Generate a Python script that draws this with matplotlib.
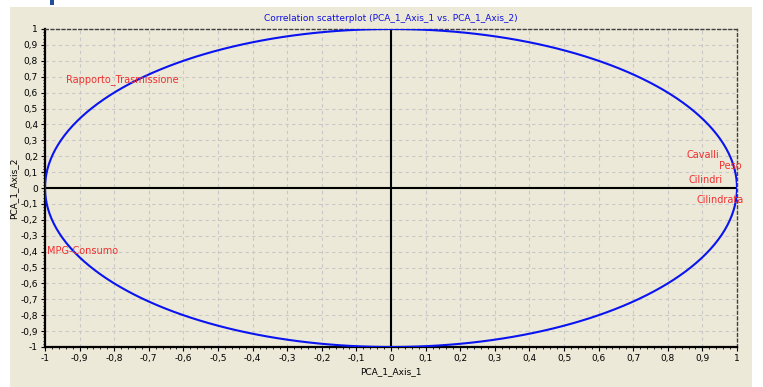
import numpy as np
import matplotlib.pyplot as plt
from matplotlib.patches import Rectangle
from matplotlib.ticker import MultipleLocator, FuncFormatter

# variable labels and their positions on the correlation circle
var_names = ['Rapporto_Trasmissione', 'Cavalli', 'Peso', 'Cilindri', 'Cilindrata', 'MPG-Consumo']
axis1 = [-0.94, 0.853, 0.948, 0.861, 0.884, -0.994]
axis2 = [0.68, 0.207, 0.138, 0.05, -0.075, -0.396]

ticks = np.round(np.arange(-1, 1.01, 0.1), 1)

bg = '#ECE9D8'
fig = plt.figure(figsize=(7.63, 3.87), dpi=100)
fig.patch.set_facecolor('white')
fig.patches.append(Rectangle((10/763, 0), 742/763, 380/387, transform=fig.transFigure,
                             facecolor=bg, edgecolor='none', zorder=-10))
fig.patches.append(Rectangle((50/763, 382/387), 4/763, 5/387, transform=fig.transFigure,
                             facecolor='#1F4E9A', edgecolor='none', zorder=-9))

ax = fig.add_axes([45/763, 1 - 347/387, 692/763, 318/387])
ax.set_facecolor(bg)

t = np.linspace(0, 2*np.pi, 400)
ax.plot(np.cos(t), np.sin(t), color='#0A14F0', lw=1.5, zorder=3)
ax.axhline(0, color='black', lw=1.5, zorder=2)
ax.axvline(0, color='black', lw=1.5, zorder=2)

for name, x, y in zip(var_names, axis1, axis2):
    ax.text(x, y, name, color='#F03030', fontsize=7, ha='left', va='center', zorder=4)


def comma(v, p):
    v = round(v, 1)
    if v == 0:
        return '0'
    return ('%g' % v).replace('.', ',')


ax.set_xlim(-1, 1)
ax.set_ylim(-1, 1)
ax.set_xticks(ticks)
ax.set_yticks(ticks)
ax.xaxis.set_major_formatter(FuncFormatter(comma))
ax.yaxis.set_major_formatter(FuncFormatter(comma))
ax.xaxis.set_minor_locator(MultipleLocator(0.02))
ax.yaxis.set_minor_locator(MultipleLocator(0.02))
ax.tick_params(which='major', length=3, labelsize=6.5, pad=2, top=False, right=False)
ax.tick_params(which='minor', length=1.5, top=False, right=False)
ax.grid(True, which='major', color='#C8C8C8', ls=(0, (3, 3)), lw=0.8)

ax.spines['left'].set_linewidth(1.6)
ax.spines['bottom'].set_linewidth(1.6)
for s in ['top', 'right']:
    ax.spines[s].set_linestyle((0, (2, 2)))
    ax.spines[s].set_linewidth(1)
    ax.spines[s].set_color('#404040')

ax.set_title('Correlation scatterplot (PCA_1_Axis_1 vs. PCA_1_Axis_2)', color='#1010E0',
             fontsize=6.5, pad=6)
ax.set_xlabel('PCA_1_Axis_1', fontsize=6.5, labelpad=3)
ax.set_ylabel('PCA_1_Axis_2', fontsize=6.5)
ax.yaxis.set_label_coords(-27/692, 0.5)

fig.savefig('out.png', dpi=100)
